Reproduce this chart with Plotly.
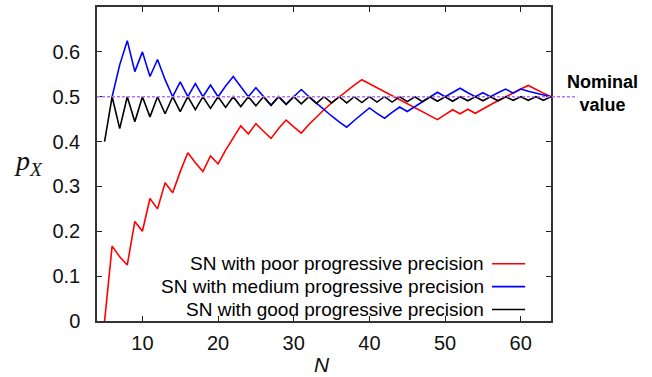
import plotly.graph_objects as go

# ---- data ----
N_poor = list(range(5, 65))
p_poor = [0.0, 0.167, 0.143, 0.125, 0.222, 0.2, 0.273, 0.25, 0.308, 0.286,
          0.333, 0.375, 0.353, 0.333, 0.368, 0.35, 0.381, 0.409, 0.435, 0.417,
          0.44, 0.423, 0.407, 0.429, 0.448, 0.433, 0.419, 0.438, 0.455, 0.471,
          0.486, 0.5, 0.514, 0.526, 0.538, 0.529, 0.52, 0.511, 0.502, 0.493,
          0.484, 0.475, 0.466, 0.457, 0.449, 0.46, 0.471, 0.462, 0.472, 0.463,
          0.473, 0.482, 0.491, 0.5, 0.508, 0.517, 0.525, 0.516, 0.508, 0.5]

N_medium = list(range(6, 65))
p_medium = [0.5, 0.571, 0.625, 0.556, 0.6, 0.545, 0.583, 0.538, 0.5, 0.533,
            0.5, 0.529, 0.5, 0.526, 0.5, 0.524, 0.545, 0.522, 0.5, 0.52,
            0.5, 0.481, 0.5, 0.483, 0.5, 0.516, 0.5, 0.485, 0.47, 0.457,
            0.444, 0.432, 0.447, 0.462, 0.475, 0.463, 0.452, 0.465, 0.477, 0.467,
            0.478, 0.489, 0.5, 0.51, 0.5, 0.51, 0.519, 0.509, 0.5, 0.509,
            0.5, 0.509, 0.517, 0.508, 0.517, 0.512, 0.508, 0.504, 0.5]

N_good = list(range(5, 65))
p_good = [0.4, 0.5, 0.429, 0.5, 0.444, 0.5, 0.455, 0.5, 0.462, 0.5,
          0.467, 0.5, 0.471, 0.5, 0.474, 0.5, 0.476, 0.5, 0.478, 0.5,
          0.48, 0.5, 0.481, 0.5, 0.483, 0.5, 0.484, 0.5, 0.485, 0.5,
          0.486, 0.5, 0.486, 0.5, 0.487, 0.5, 0.488, 0.5, 0.488, 0.5,
          0.489, 0.5, 0.489, 0.5, 0.49, 0.5, 0.49, 0.5, 0.491, 0.5,
          0.491, 0.5, 0.491, 0.5, 0.492, 0.5, 0.492, 0.5, 0.492, 0.5]

nominal_value = 0.5
series_names = ["SN with poor progressive precision",
                "SN with medium progressive precision",
                "SN with good progressive precision"]
series_colors = ["#ff0000", "#0000ff", "#000000"]
x_ticks = [10, 20, 30, 40, 50, 60]
y_ticks = [0, 0.1, 0.2, 0.3, 0.4, 0.5, 0.6]
y_ticklabels = ["0", "0.1", "0.2", "0.3", "0.4", "0.5", "0.6"]

SANS = "Liberation Sans, Arial, sans-serif"
SERIF = "Liberation Serif, Times New Roman, serif"

fig = go.Figure()
for xs, ys, name, col in zip([N_poor, N_medium, N_good],
                             [p_poor, p_medium, p_good],
                             series_names, series_colors):
    fig.add_trace(go.Scatter(x=xs, y=ys, mode="lines", name=name,
                             line=dict(color=col, width=1.6),
                             showlegend=False, hoverinfo="x+y"))

# nominal line (extends beyond the frame)
fig.add_shape(type="line", xref="paper", yref="y", x0=0, x1=1.058,
              y0=nominal_value, y1=nominal_value, layer="above",
              line=dict(color="#b470ff", width=1.4, dash="3px,2px"))
fig.add_annotation(xref="paper", yref="y", x=1.1145, y=nominal_value + 0.007,
                   text="<b>Nominal<br>value</b>", showarrow=False,
                   font=dict(family=SANS, size=18, color="black"),
                   align="center", xanchor="center", yanchor="middle")

# manual legend: text on the left, sample line on the right
leg_y = [0.1825, 0.1095, 0.0365]
for name, col, yy in zip(series_names, series_colors, leg_y):
    fig.add_annotation(xref="paper", yref="paper", x=0.857, y=yy, text=name,
                       showarrow=False, xanchor="right", yanchor="middle",
                       font=dict(family=SANS, size=19, color="black"))
    fig.add_shape(type="line", xref="paper", yref="paper", x0=0.870, x1=0.943,
                  y0=yy, y1=yy, line=dict(color=col, width=1.6))

axis_common = dict(showline=True, mirror="ticks", linecolor="#333333", linewidth=1.5,
                   ticks="inside", ticklen=5, tickwidth=1.3, tickcolor="#222222",
                   showgrid=False, zeroline=False, automargin=False,
                   tickfont=dict(family=SANS, size=20, color="#111111"))

fig.update_xaxes(range=[4, 64], tickvals=x_ticks, ticklabelstandoff=3, **axis_common)
fig.update_yaxes(range=[0, 0.7], tickvals=y_ticks, ticktext=y_ticklabels,
                 ticklabelstandoff=11, **axis_common)

# axis titles
fig.add_annotation(xref="paper", yref="paper", x=(28 - 97) / 454, y=(321.5 - 162) / 315,
                   text="<i>p<sub>X</sub></i>", showarrow=False, xanchor="center", yanchor="middle",
                   font=dict(family=SERIF, size=28, color="#111111"))
fig.add_annotation(xref="paper", yref="paper", x=(322 - 97) / 454, y=(321.5 - 365) / 315,
                   text="<i>N</i>", showarrow=False, xanchor="center", yanchor="middle",
                   font=dict(family=SANS, size=21, color="#111111"))

fig.update_layout(width=652, height=377,
                  margin=dict(l=97, r=101, t=6.5, b=55.5, pad=0),
                  paper_bgcolor="white", plot_bgcolor="white",
                  showlegend=False)

fig.write_html("out.html", config={"displayModeBar": False},
               post_script="document.body.style.margin='0';document.body.style.overflow='hidden';")
